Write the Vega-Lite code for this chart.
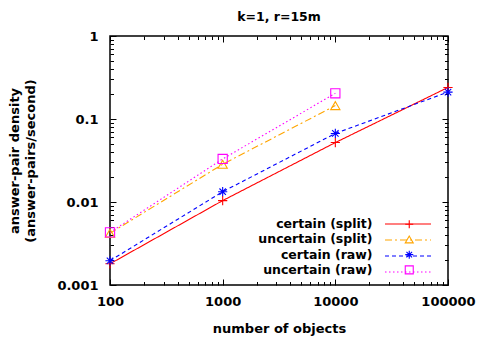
{
  "$schema": "https://vega.github.io/schema/vega-lite/v6.json",
  "width": 338,
  "height": 249,
  "autosize": {"type": "none"},
  "padding": {"left": 110, "top": 36, "right": 30, "bottom": 54},
  "background": "white",
  "config": {
    "font": "DejaVu Sans",
    "view": {"stroke": "black", "strokeWidth": 1.5},
    "axis": {
      "grid": false, "domain": false,
      "labelFont": "DejaVu Sans", "labelFontWeight": "bold", "labelFontSize": 13, "labelColor": "black",
      "tickColor": "black", "tickWidth": 1,
      "titleFont": "DejaVu Sans", "titleFontWeight": "bold", "titleFontSize": 13, "titleColor": "black",
      "labelFlush": false, "labelOverlap": false
    },
    "legend": {
      "labelFont": "DejaVu Sans", "labelFontWeight": "bold", "labelFontSize": 12.5, "labelColor": "black",
      "padding": 0
    }
  },
  "title": {"text": "k=1, r=15m", "font": "DejaVu Sans", "fontSize": 12.5, "fontWeight": "bold", "color": "black", "baseline": "alphabetic", "offset": -3, "anchor": "middle"},
  "data": {
    "values": [
      {"series": "certain (split)", "n": 100, "v": 0.0018},
      {"series": "certain (split)", "n": 1000, "v": 0.0104},
      {"series": "certain (split)", "n": 10000, "v": 0.052},
      {"series": "certain (split)", "n": 100000, "v": 0.24},
      {"series": "uncertain (split)", "n": 100, "v": 0.0042},
      {"series": "uncertain (split)", "n": 1000, "v": 0.0285},
      {"series": "uncertain (split)", "n": 10000, "v": 0.145},
      {"series": "certain (raw)", "n": 100, "v": 0.00196},
      {"series": "certain (raw)", "n": 1000, "v": 0.0133},
      {"series": "certain (raw)", "n": 10000, "v": 0.067},
      {"series": "certain (raw)", "n": 100000, "v": 0.211},
      {"series": "uncertain (raw)", "n": 100, "v": 0.0043},
      {"series": "uncertain (raw)", "n": 1000, "v": 0.033},
      {"series": "uncertain (raw)", "n": 10000, "v": 0.204}
    ]
  },
  "resolve": {"axis": {"x": "independent", "y": "independent"}, "scale": {"color": "independent", "strokeDash": "independent", "shape": "independent"}},
  "layer": [
    {
      "mark": {"type": "line", "strokeWidth": 1.1},
      "encoding": {
        "x": {"field": "n", "type": "quantitative",
          "scale": {"type": "log", "domain": [100, 100000], "nice": false},
          "axis": {"orient": "bottom", "title": "number of objects", "values": [100, 1000, 10000, 100000], "format": "d",
            "tickSize": -6, "labelPadding": 26.5, "labelBaseline": "alphabetic", "titleY": 47.5, "titleBaseline": "alphabetic"}},
        "y": {"field": "v", "type": "quantitative",
          "scale": {"type": "log", "domain": [0.001, 1], "nice": false},
          "axis": {"orient": "left", "title": ["answer-pair density", "(answer-pairs/second)"], "values": [0.001, 0.01, 0.1, 1], "format": "~g",
            "tickSize": -6, "labelPadding": 18, "titleX": -91.5, "titleBaseline": "alphabetic", "titleLineHeight": 16}},
        "color": {"field": "series", "type": "nominal",
          "scale": {"domain": ["certain (split)", "uncertain (split)", "certain (raw)", "uncertain (raw)"], "range": ["#ff0000", "#ffa500", "#0000ff", "#ff00ff"]},
          "legend": {"title": null, "orient": "none", "legendX": 274, "legendY": 180.25, "symbolType": "stroke", "symbolSize": 2116, "symbolStrokeWidth": 1.1, "labelExpr": "''", "clipHeight": 15.5, "rowPadding": 0}},
        "strokeDash": {"field": "series", "type": "nominal",
          "scale": {"domain": ["certain (split)", "uncertain (split)", "certain (raw)", "uncertain (raw)"], "range": [[1, 0], [7, 3, 2, 3], [4, 3], [1.5, 2.5]]},
          "legend": {"title": null, "orient": "none", "legendX": 274, "legendY": 180.25, "symbolType": "stroke", "symbolSize": 2116, "symbolStrokeWidth": 1.1, "labelExpr": "''", "clipHeight": 15.5, "rowPadding": 0}}
      }
    },
    {
      "mark": {"type": "point", "filled": false, "strokeWidth": 1.1, "size": 85, "opacity": 1},
      "encoding": {
        "x": {"field": "n", "type": "quantitative",
          "axis": {"orient": "top", "title": null, "values": [100, 1000, 10000, 100000], "labels": false, "tickSize": -6}},
        "y": {"field": "v", "type": "quantitative",
          "axis": {"orient": "right", "title": null, "values": [0.001, 0.01, 0.1, 1], "labels": false, "tickSize": -6}},
        "color": {"field": "series", "type": "nominal",
          "scale": {"domain": ["certain (split)", "uncertain (split)", "certain (raw)", "uncertain (raw)"], "range": ["#ff0000", "#ffa500", "#0000ff", "#ff00ff"]},
          "legend": {"title": null, "orient": "none", "legendX": 293, "legendY": 182, "symbolSize": 64, "symbolStrokeWidth": 1.1, "rowPadding": 2.2,
            "labelAlign": "right", "labelOffset": -43}},
        "shape": {"field": "series", "type": "nominal",
          "scale": {"domain": ["certain (split)", "uncertain (split)", "certain (raw)", "uncertain (raw)"], "range": ["M-1,0H1M0,-1V1", "triangle-up", "M-1,0H1M0,-1V1M-0.7,-0.7L0.7,0.7M-0.7,0.7L0.7,-0.7", "square"]},
          "legend": {"title": null, "orient": "none", "legendX": 293, "legendY": 182, "symbolSize": 64, "symbolStrokeWidth": 1.1, "rowPadding": 2.2,
            "labelAlign": "right", "labelOffset": -43}}
      }
    },
    {
      "mark": {"type": "point", "opacity": 0},
      "encoding": {
        "x": {"field": "n", "type": "quantitative",
          "axis": {"orient": "bottom", "title": null, "labels": false, "tickSize": -3.5,
            "values": [200, 300, 400, 500, 600, 700, 800, 900, 2000, 3000, 4000, 5000, 6000, 7000, 8000, 9000, 20000, 30000, 40000, 50000, 60000, 70000, 80000, 90000]}},
        "y": {"field": "v", "type": "quantitative",
          "axis": {"orient": "left", "title": null, "labels": false, "tickSize": -3.5,
            "values": [0.002, 0.003, 0.004, 0.005, 0.006, 0.007, 0.008, 0.009, 0.02, 0.03, 0.04, 0.05, 0.06, 0.07, 0.08, 0.09, 0.2, 0.3, 0.4, 0.5, 0.6, 0.7, 0.8, 0.9]}}
      }
    },
    {
      "mark": {"type": "point", "opacity": 0},
      "encoding": {
        "x": {"field": "n", "type": "quantitative",
          "axis": {"orient": "top", "title": null, "labels": false, "tickSize": -3.5,
            "values": [200, 300, 400, 500, 600, 700, 800, 900, 2000, 3000, 4000, 5000, 6000, 7000, 8000, 9000, 20000, 30000, 40000, 50000, 60000, 70000, 80000, 90000]}},
        "y": {"field": "v", "type": "quantitative",
          "axis": {"orient": "right", "title": null, "labels": false, "tickSize": -3.5,
            "values": [0.002, 0.003, 0.004, 0.005, 0.006, 0.007, 0.008, 0.009, 0.02, 0.03, 0.04, 0.05, 0.06, 0.07, 0.08, 0.09, 0.2, 0.3, 0.4, 0.5, 0.6, 0.7, 0.8, 0.9]}}
      }
    }
  ]
}
